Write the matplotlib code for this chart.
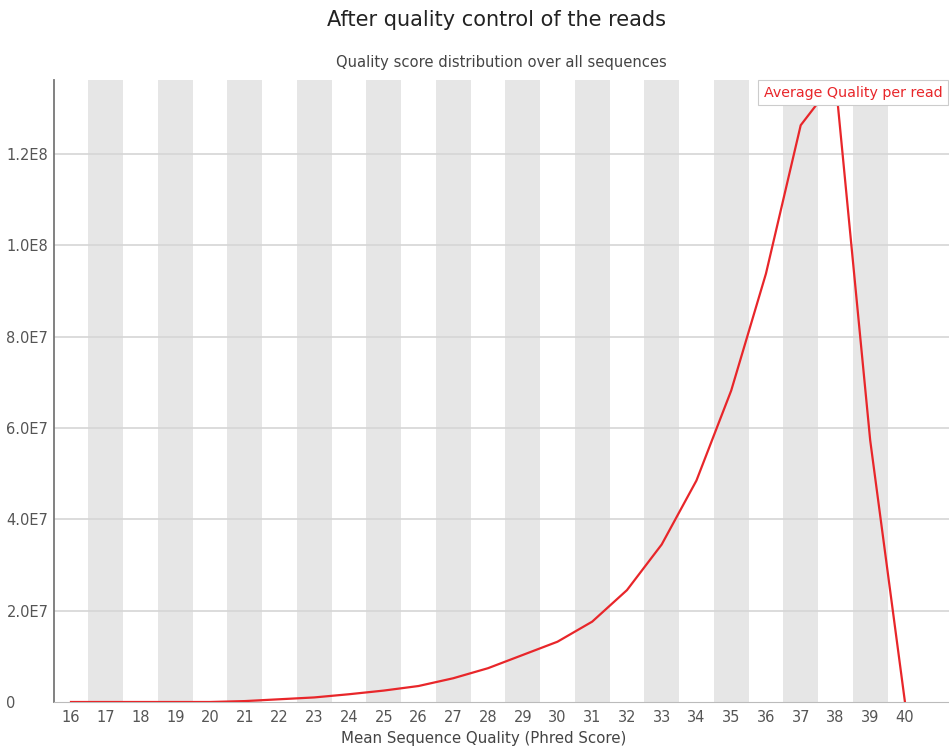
import numpy as np
import matplotlib.pyplot as plt

# mean phred score per read -> number of reads
quality = list(range(16, 41))
reads = [0, 0, 0, 0, 0, 2e5, 6e5, 1.0e6, 1.7e6, 2.5e6, 3.5e6, 5.2e6, 7.4e6,
         1.03e7, 1.32e7, 1.76e7, 2.45e7, 3.45e7, 4.85e7, 6.82e7, 9.38e7,
         1.263e8, 1.362e8, 5.73e7, 0]
yticks = [0, 2e7, 4e7, 6e7, 8e7, 1.0e8, 1.2e8]
ytick_labels = ['0', '2.0E7', '4.0E7', '6.0E7', '8.0E7', '1.0E8', '1.2E8']

fig = plt.figure(figsize=(9.49, 7.5), dpi=100)
ax = fig.add_axes([0.0565, 0.064, 0.952, 0.8293])

# alternating grey bands behind odd scores
for q in quality:
    if q % 2 == 1:
        ax.axvspan(q - 0.5, q + 0.5, color='#e6e6e6', lw=0, zorder=0)

for y in yticks[1:]:
    ax.axhline(y, color='#d6d6d6', lw=1.2, zorder=1)

ax.plot(quality, reads, color='#e8262a', lw=1.6, zorder=3,
        label='Average Quality per read')

ax.set_xlim(15.5, 41.5)
ax.set_ylim(0, max(reads))
ax.set_xticks(quality)
ax.set_yticks(yticks)
ax.set_yticklabels(ytick_labels)

for s in ['top', 'right']:
    ax.spines[s].set_visible(False)
ax.spines['left'].set_color('#777777')
ax.spines['bottom'].set_color('#bbbbbb')
ax.spines['left'].set_linewidth(1.3)

ax.tick_params(axis='x', length=0, pad=6, labelsize=10.5, labelcolor='#555555')
ax.tick_params(axis='y', length=0, pad=34, labelsize=10.5, labelcolor='#555555')
for lab in ax.get_yticklabels():
    lab.set_horizontalalignment('left')

fig.text(484 / 949, 1 - 738 / 750, 'Mean Sequence Quality (Phred Score)',
         ha='center', va='center', fontsize=10.8, color='#444444')

fig.text(0.523, 0.973, 'After quality control of the reads', ha='center',
         va='center', fontsize=15, color='#222222')
fig.text(0.528, 0.917, 'Quality score distribution over all sequences',
         ha='center', va='center', fontsize=10.6, color='#444444')

leg = ax.legend(loc='upper left', bbox_to_anchor=(758 / 949, 1 - 80 / 750),
                bbox_transform=fig.transFigure, handlelength=0,
                handletextpad=0, labelcolor='#e8262a', fontsize=10.3,
                frameon=True, fancybox=False, framealpha=1, borderpad=0.4,
                borderaxespad=0)
leg.get_frame().set_edgecolor('#cccccc')
leg.get_frame().set_linewidth(0.8)
for h in leg.legend_handles:
    h.set_visible(False)
leg.set_zorder(5)

fig.savefig('out.png', dpi=100)
